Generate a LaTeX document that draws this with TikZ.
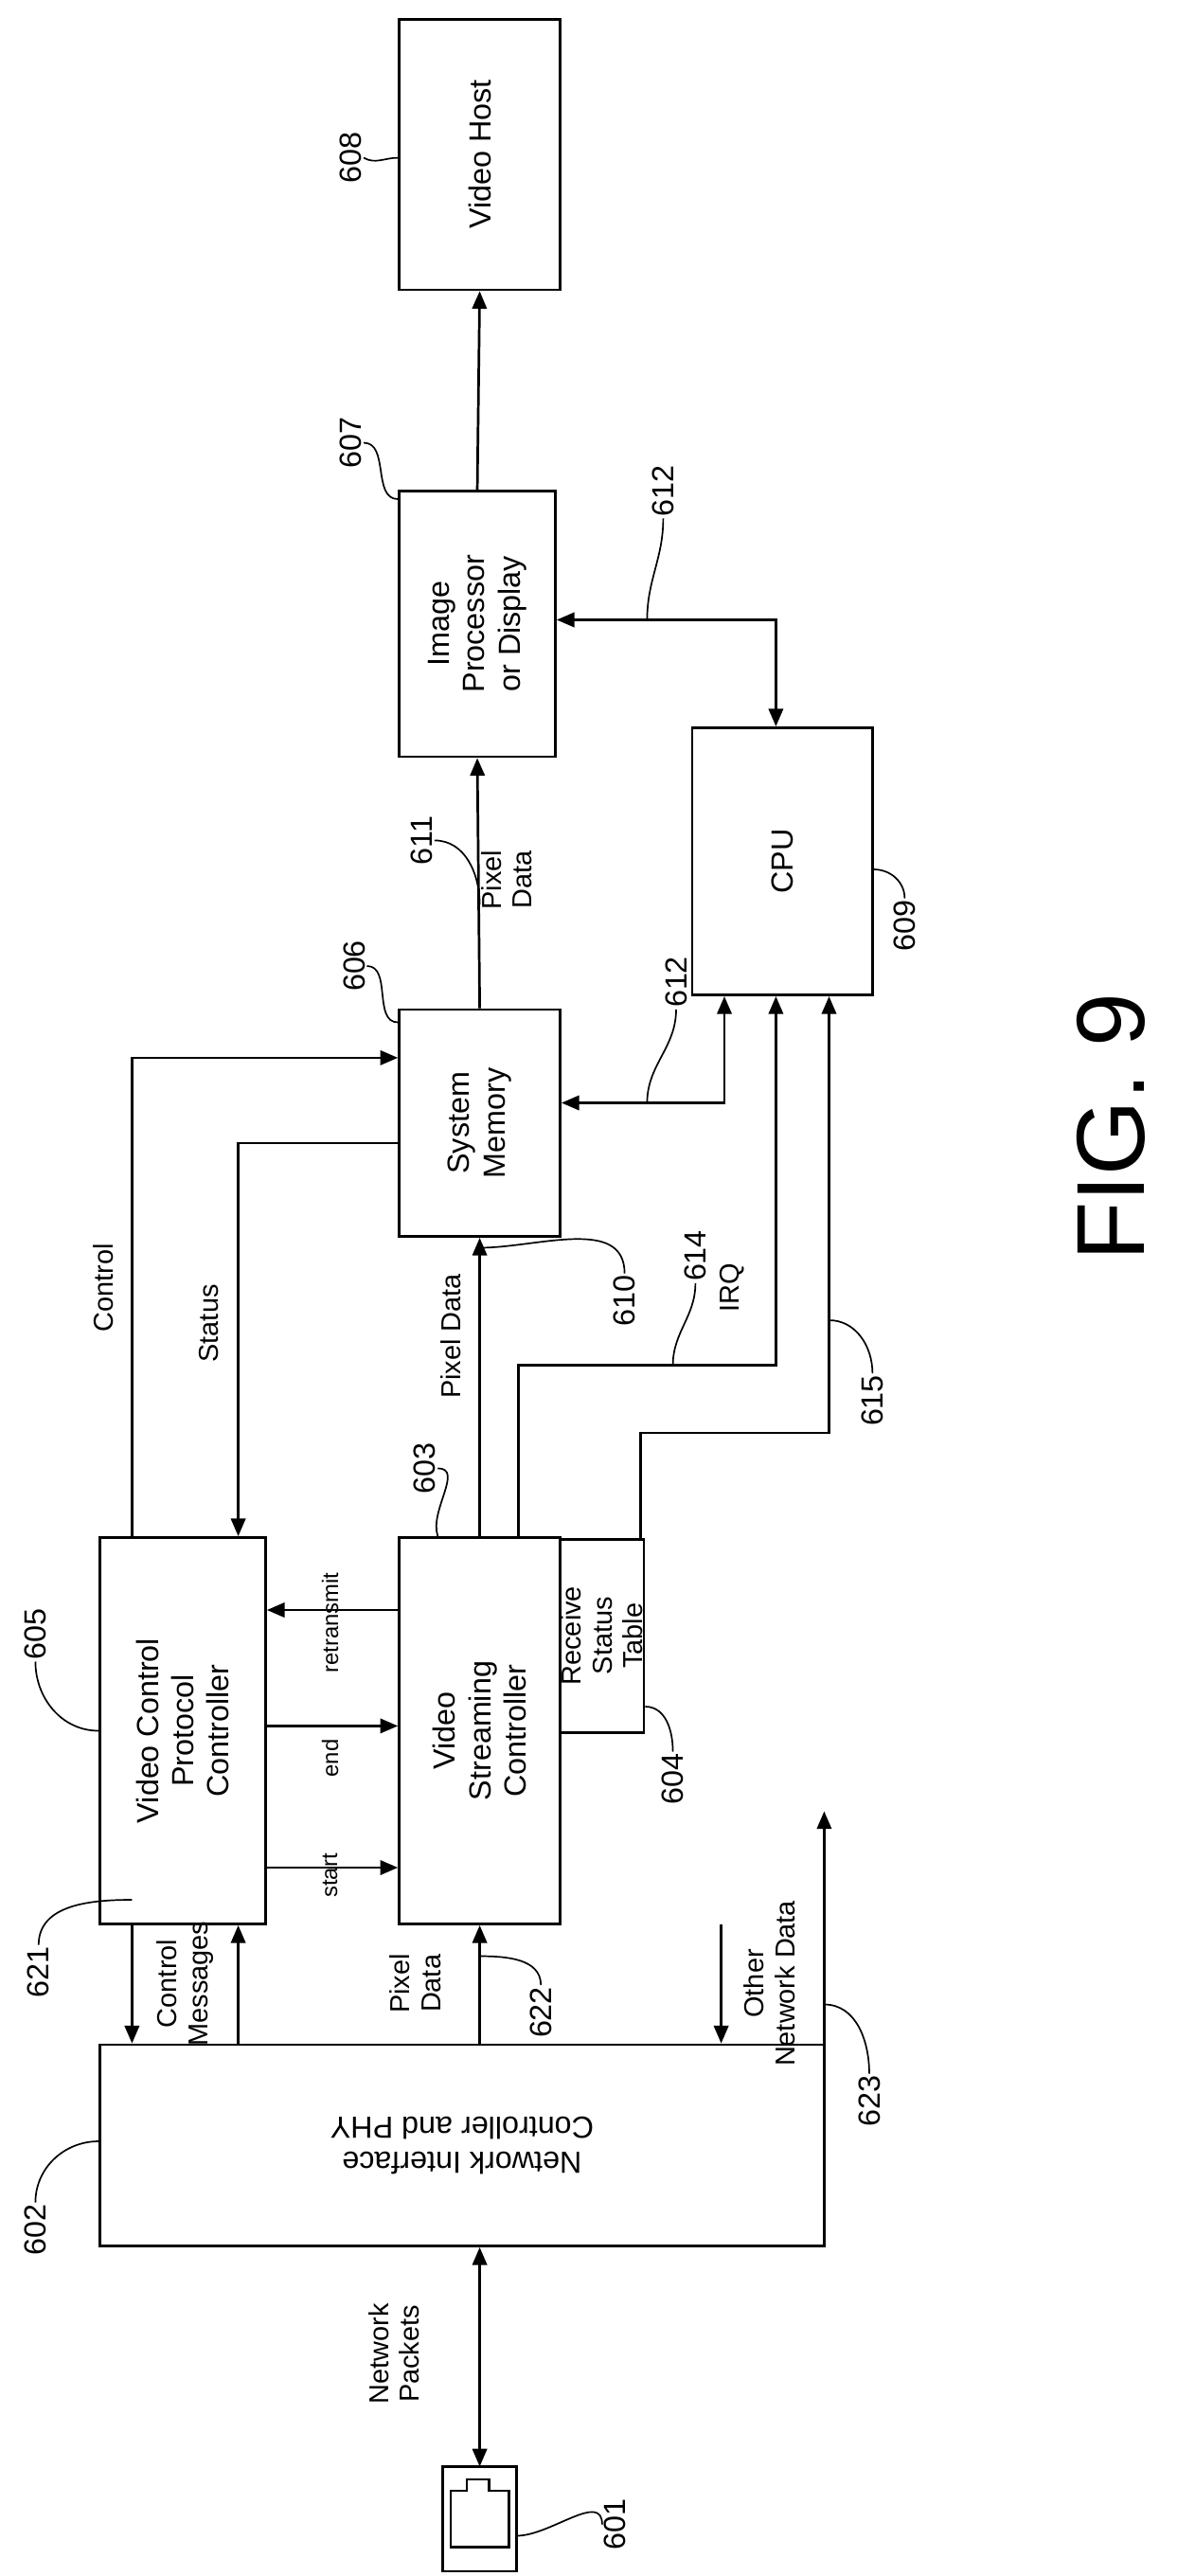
\documentclass[tikz,border=0pt]{standalone}
\usepackage{fontspec}
\setmainfont{Liberation Sans}
\usetikzlibrary{arrows.meta}
\begin{document}
\begin{tikzpicture}[x=1pt,y=-1pt,
        box/.style={rectangle, draw, line width=1.6pt, rotate=90, align=center, inner sep=0pt,
            font=\fontsize{19}{22}\selectfont},
        txt/.style={rotate=90, align=center, font=\fontsize{17}{19}\selectfont, inner sep=1pt},
        num/.style={rotate=90, font=\fontsize{19}{22}\selectfont, inner sep=1pt},
        arrow/.style={-{Triangle[length=11pt,width=9pt]}, line width=1.6pt},
        darrow/.style={{Triangle[length=11pt,width=9pt]}-{Triangle[length=11pt,width=9pt]}, line width=1.6pt},
        lead/.style={line width=1pt}
    ]
        \useasboundingbox (0,0) rectangle (742,1600);
        % Boxes
        \node[box, minimum width=168pt, minimum height=100pt] (host) at (298,96) {Video Host};
        \node[box, minimum width=165pt, minimum height=97pt] (imgp) at (296.5,387.5) {Image\\Processor\\or Display};
        \node[box, minimum width=166pt, minimum height=112pt] (cpu) at (486,535) {CPU};
        \node[box, minimum width=141pt, minimum height=100pt] (sysmem) at (298,697.5) {System\\Memory};
        \node[box, minimum width=240pt, minimum height=103pt] (vcpc) at (113.5,1075) {Video Control\\Protocol\\Controller};
        \node[box, minimum width=240pt, minimum height=100pt] (vsc) at (298,1075) {Video\\Streaming\\Controller};
        \node[box, minimum width=120pt, minimum height=52pt, font=\fontsize{17}{19}\selectfont] (rst) at (374,1016) {Receive\\Status\\Table};
        \node[box, rotate=90, minimum width=450pt, minimum height=125pt] (nic) at (287,1332.5) {Network Interface\\Controller and PHY};
        
        % Connector icon
        \draw[line width=1.6pt] (275,1532) rectangle (321,1597);
        \draw[line width=1.6pt] (280,1582) -- (280,1547) -- (290,1547) -- (290,1540) -- (304,1540) -- (304,1547) -- (316,1547) -- (316,1582) -- cycle;
        \node[inner sep=0pt] (jack) at (298,1565) {};
        
        % Arrows
        \draw[arrow] (imgp.east) -- (host.west);
        \draw[arrow] (sysmem.east) -- node[txt, right=2pt, anchor=north] {Pixel\\Data} (imgp.west);
        \draw[darrow] (imgp.south |- 0,385) -| (cpu.east -| 482,0);
        \draw[darrow] (sysmem.south |- 0,685) -| (cpu.west -| 450,0);
        \draw[arrow] (vsc.east -| 322,0) |- (482,848) -- (cpu.west -| 482,0);
        \draw[arrow] (rst.east -| 398,0) |- (515,890) -- (cpu.west -| 515,0);
        \draw[arrow] (vsc.east) -- (sysmem.west);
        \draw[arrow] (vcpc.east -| 82,0) |- (sysmem.north |- 0,657);
        \draw[arrow] (sysmem.north |- 0,710) -| (vcpc.east -| 148,0);
        \draw[arrow] (vsc.north |- 0,1000) -- (vcpc.south |- 0,1000);
        \draw[arrow] (vcpc.south |- 0,1072) -- (vsc.north |- 0,1072);
        \draw[arrow] (vcpc.south |- 0,1160) -- (vsc.north |- 0,1160);
        \draw[arrow] (vcpc.west -| 82,0) -- (nic.south -| 82,0);
        \draw[arrow] (nic.south -| 148,0) -- (vcpc.west -| 148,0);
        \draw[arrow] (nic.south -| 298,0) -- (vsc.west);
        \draw[arrow] (448,1195) -- (nic.south -| 448,0);
        \draw[arrow] (nic.south -| 512,0) -- (512,1125);
        \draw[darrow] (nic.north -| jack) -- (jack |- 0,1532);
        
        % Texts
        \node[txt] (tpix) at (280,830) {Pixel Data};
        \node[txt] (tirq) at (455,800) {IRQ};
        \node[txt] (tctl) at (64,800) {Control};
        \node[txt] (tsta) at (130,822) {Status};
        \node[txt, font=\fontsize{14}{16}\selectfont] (tret) at (205,1008) {retransmit};
        \node[txt, font=\fontsize{14}{16}\selectfont] (tend) at (205,1092) {end};
        \node[txt, font=\fontsize{14}{16}\selectfont] (tsrt) at (205,1165) {start};
        \node[txt] (tcm) at (115,1232) {Control\\Messages};
        \node[txt] (tpd) at (258,1232) {Pixel\\Data};
        \node[txt] (tond) at (478,1232) {Other\\Network Data};
        \node[txt] (tnp) at (245,1462) {Network\\Packets};
        
        % Reference numbers
        \node[num] (n608) at (218,98) {608};
        \draw[lead] (n608.south) to[out=-30,in=180] (host.north |- 0,98);
        \node[num] (n607) at (218,275) {607};
        \draw[lead] (n607.south) to[out=0,in=180] (imgp.north |- 0,310);
        \node[num] (n612a) at (412,305) {612};
        \draw[lead] (n612a.west) to[out=-90,in=90] (402,385);
        \node[num] (n611) at (262,522) {611};
        \draw[lead] (n611.south) to[out=0,in=90] (298,562);
        \node[num] (n609) at (562,575) {609};
        \draw[lead] (n609.east) to[out=90,in=0] (cpu.south |- 0,540);
        \node[num] (n606) at (220,600) {606};
        \draw[lead] (n606.south) to[out=0,in=180] (sysmem.north |- 0,635);
        \node[num] (n612b) at (420,610) {612};
        \draw[lead] (n612b.west) to[out=-90,in=90] (402,685);
        \node[num] (n610) at (388,808) {610};
        \draw[lead] (n610.east) to[out=90,in=0] (298,775);
        \node[num] (n614) at (432,780) {614};
        \draw[lead] (n614.west) to[out=-90,in=90] (418,848);
        \node[num] (n615) at (542,870) {615};
        \draw[lead] (n615.east) to[out=90,in=0] (515,820);
        \node[num] (n605) at (22,1015) {605};
        \draw[lead] (n605.west) to[out=-90,in=180] (vcpc.north |- 0,1075);
        \node[num] (n603) at (264,912) {603};
        \draw[lead] (n603.south) to[out=0,in=110] (vsc.east -| 272,0);
        \node[num] (n604) at (418,1105) {604};
        \draw[lead] (n604.east) to[out=90,in=0] (rst.south |- 0,1060);
        \node[num] (n621) at (24,1225) {621};
        \draw[lead] (n621.east) to[out=90,in=180] (82,1180);
        \node[num] (n622) at (336,1250) {622};
        \draw[lead] (n622.east) to[out=90,in=0] (298,1215);
        \node[num] (n623) at (540,1305) {623};
        \draw[lead] (n623.east) to[out=90,in=0] (512,1245);
        \node[num] (n602) at (22,1385) {602};
        \draw[lead] (n602.east) to[out=90,in=180] (nic.east |- 0,1330);
        \node[num] (n601) at (382,1568) {601};
        \draw[lead] (n601.north) to[out=90,in=0] (321,1575);
        
        \node[rotate=90, font=\fontsize{60}{66}\selectfont] (fig) at (690,700) {FIG. 9};
    \end{tikzpicture}
\end{document}
